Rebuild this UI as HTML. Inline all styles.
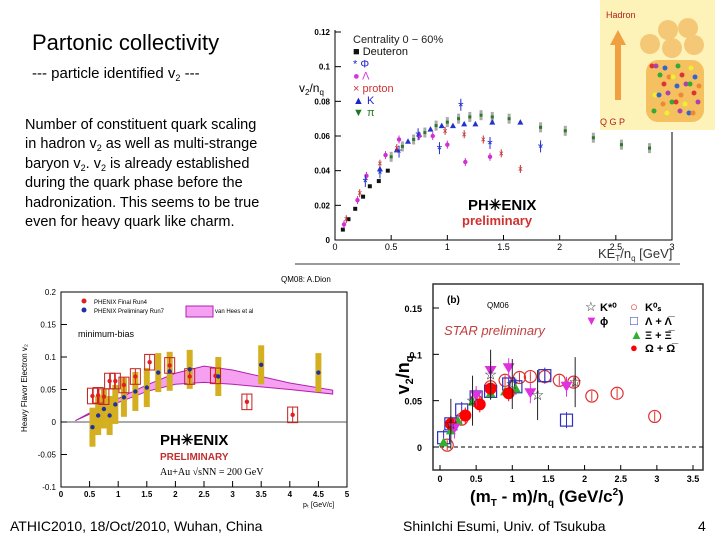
<!DOCTYPE html>
<html><head><meta charset="utf-8"><style>
body{margin:0;width:720px;height:540px;background:#fff;position:relative;overflow:hidden;font-family:"Liberation Sans",sans-serif}
.t{position:absolute;color:#000}
sub{line-height:0;font-size:9px;vertical-align:-3px}
svg{position:absolute;left:0;top:0}
</style></head><body>
<div class="t" style="left:32px;top:30px;font-size:22px">Partonic collectivity</div>
<div class="t" style="left:32px;top:65px;font-size:15px">--- particle identified v<sub>2</sub> ---</div>
<div class="t" style="left:25px;top:116px;font-size:14.5px;line-height:19.4px;width:290px;white-space:nowrap">Number of constituent quark scaling<br>in hadron v<sub>2</sub> as well as multi-strange<br>baryon v<sub>2</sub>. v<sub>2</sub> is already established<br>during the quark phase before the<br>hadronization. This seems to be true<br>even for heavy quark like charm.</div>
<div class="t" style="left:10px;top:518px;font-size:14px">ATHIC2010, 18/Oct/2010, Wuhan, China</div>
<div class="t" style="left:403px;top:518px;font-size:14px">ShinIchi Esumi, Univ. of Tsukuba</div>
<div class="t" style="left:698px;top:518px;font-size:14px">4</div>
<svg id="s" width="720" height="540"></svg>
<script>
// ---- Chart 1: PHENIX v2/nq vs KE_T/nq ----
const c1_deuteron_x=[0.07,0.12,0.18,0.25,0.31,0.39,0.47];
const c1_deuteron_y=[0.006,0.012,0.018,0.025,0.031,0.034,0.04];
const c1_pi_x=[0.5,0.6,0.7,0.8,0.9,1.0,1.1,1.2,1.3,1.4,1.55,1.83,2.05,2.3,2.55,2.8];
const c1_pi_y=[0.048,0.054,0.058,0.062,0.066,0.068,0.07,0.071,0.072,0.071,0.07,0.065,0.063,0.059,0.055,0.053];
const c1_k_x=[0.4,0.55,0.65,0.75,0.85,0.95,1.05,1.15,1.25,1.4,1.65];
const c1_k_y=[0.041,0.052,0.057,0.061,0.064,0.066,0.066,0.067,0.067,0.068,0.068];
const c1_lam_x=[0.08,0.2,0.28,0.45,0.57,0.75,0.87,1.0,1.16,1.38];
const c1_lam_y=[0.009,0.023,0.037,0.049,0.058,0.06,0.06,0.055,0.045,0.048];
const c1_p_x=[0.1,0.22,0.4,0.55,0.98,1.15,1.32,1.48,1.65];
const c1_p_y=[0.012,0.027,0.044,0.053,0.063,0.061,0.058,0.05,0.041];
const c1_phi_x=[0.27,0.4,0.57,0.74,0.93,1.12,1.38,1.83];
const c1_phi_y=[0.034,0.039,0.051,0.061,0.053,0.078,0.056,0.054];
const c1_xt=["0","0.5","1","1.5","2","2.5","3"];
const c1_yt=["0","0.02","0.04","0.06","0.08","0.1","0.12"];
// ---- Chart 2: heavy flavor electron v2 ----
const c2_run4_x=[0.55,0.65,0.75,0.85,0.95,1.1,1.3,1.55,1.9,2.25,2.7,3.25,4.05];
const c2_run4_y=[0.04,0.041,0.039,0.063,0.063,0.057,0.07,0.092,0.087,0.07,0.071,0.031,0.011];
const c2_run7_x=[0.55,0.65,0.75,0.85,0.95,1.1,1.3,1.5,1.7,1.9,2.25,2.75,3.5,4.5];
const c2_run7_y=[-0.008,0.01,0.02,0.01,0.027,0.038,0.047,0.053,0.076,0.078,0.081,0.07,0.088,0.076];
const c2_band_x=[0.25,0.5,1.0,1.5,2.0,2.5,3.0,3.5,4.0,4.75];
const c2_band_lo=[0.002,0.012,0.03,0.047,0.058,0.061,0.058,0.054,0.05,0.043];
const c2_band_hi=[0.002,0.014,0.036,0.057,0.075,0.086,0.08,0.07,0.06,0.049];
const c2_xt=["0","0.5","1","1.5","2","2.5","3","3.5","4","4.5","5"];
const c2_yt=["-0.1","-0.05","0","0.05","0.1","0.15","0.2"];
// ---- Chart 3: STAR v2/nq ----
const c3_ks_x=[0.1,0.3,0.5,0.7,0.9,1.1,1.25,1.45,1.65,1.85,2.1,2.45,2.97];
const c3_ks_y=[0.002,0.03,0.05,0.065,0.072,0.075,0.076,0.076,0.072,0.07,0.055,0.058,0.033];
const c3_lam_x=[0.05,0.15,0.3,0.5,0.7,0.95,1.05,1.45,1.75];
const c3_lam_y=[0.01,0.025,0.04,0.054,0.06,0.068,0.065,0.077,0.029];
const c3_xi_x=[0.05,0.15,0.25,0.45,0.7,0.9,1.05];
const c3_xi_y=[0.005,0.018,0.028,0.049,0.058,0.06,0.063];
const c3_om_x=[0.15,0.35,0.55,0.7,0.95];
const c3_om_y=[0.025,0.034,0.046,0.063,0.058];
const c3_phi_x=[0.2,0.5,0.7,0.95,1.25,1.75];
const c3_phi_y=[0.02,0.055,0.082,0.085,0.058,0.065];
const c3_kst_x=[0.15,0.45,0.7,1.0,1.35,1.87];
const c3_kst_y=[0.025,0.05,0.078,0.068,0.056,0.07];
const c3_xt=["0","0.5","1","1.5","2","2.5","3","3.5"];
const c3_yt=["0","0.05","0.1","0.15"];

const S=document.getElementById('s');const NS='http://www.w3.org/2000/svg';
function E(tag,a,txt){const e=document.createElementNS(NS,tag);for(const k in a)e.setAttribute(k,a[k]);if(txt!==undefined)e.textContent=txt;S.appendChild(e);return e;}
function lin(d0,d1,r0,r1){return v=>r0+(v-d0)*(r1-r0)/(d1-d0);}

// inset image
let el=E('rect',{x:600,y:0,width:115,height:130,fill:'#fdf3b8'});


el=E('rect',{x:646,y:60,width:58,height:62,rx:12,fill:'#f5c060'});


const blobs=[[668,30],[688,28],[650,44],[672,48],[694,45]];
blobs.forEach(b=>{el=E('circle',{cx:b[0],cy:b[1],r:10,fill:'#f5c878'});

});
const cols=['#d33','#36c','#3a3','#ee3','#a4a','#e83'];
for(let i=0;i<30;i++){el=E('circle',{cx:652+(i*13)%48,cy:66+Math.floor(i/5)*9+(i%2)*2,r:2.5,fill:cols[i%6]});

}
el=E('path',{d:'M615,100 L615,45 L610,45 L618,30 L626,45 L621,45 L621,100Z',fill:'#f0a040'});


el=E('text',{x:606,y:18,'font-size':9,fill:'#b02020'},'Hadron');


el=E('text',{x:600,y:125,'font-size':9,fill:'#b02020'},'Q G P');



// ---------- chart 1
const X1=lin(0,3,335,672),Y1=lin(0,0.12,240,32);
el=E('path',{d:'M335,30 L335,240 L672,240 L672,132',fill:'none',stroke:'#000','stroke-width':1});


el=E('line',{x1:295,y1:264,x2:680,y2:264,stroke:'#999','stroke-width':2});


c1_yt.forEach((t,i)=>{const y=Y1(i*0.02);
el=E('text',{x:330,y:y+3,'font-size':8,'font-weight':'bold','text-anchor':'end'},t);


E('line',{x1:335,y1:y,x2:341,y2:y,stroke:'#000'});});
c1_xt.forEach((t,i)=>{const x=X1(i*0.5);
el=E('text',{x:x,y:250,'font-size':9,'text-anchor':'middle'},t);


E('line',{x1:x,y1:240,x2:x,y2:235,stroke:'#000'});});
el=E('text',{x:598,y:258,'font-size':13,fill:'#333'});
el.innerHTML='KE<tspan font-size="8" dy="3">T</tspan><tspan dy="-3">/n</tspan><tspan font-size="8" dy="3">q</tspan><tspan dy="-3"> [GeV]</tspan>';


el=E('text',{x:299,y:92,'font-size':12});
el.innerHTML='v<tspan font-size="8" dy="3">2</tspan><tspan dy="-3">/n</tspan><tspan font-size="8" dy="3">q</tspan>';


const leg1=[['Centrality 0 \u2212 60%','#222',''],['Deuteron','#111','\u25A0'],['\u03A6','#22c','*'],['\u039B','#d3d','\u25CF'],['proton','#c33','\u00D7'],['K','#22c','\u25B2'],['\u03C0','#272','\u25BC']];
leg1.forEach((l,i)=>{el=E('text',{x:353,y:43+i*12.2,'font-size':11,fill:l[1]},(l[2]?l[2]+'  ':'')+l[0]);

});
function pts(xs,ys,X,Y,col,shape,name,err){xs.forEach((x,i)=>{const cx=X(x),cy=Y(ys[i]);let e;
if(err){E('line',{x1:cx,y1:cy-err,x2:cx,y2:cy+err,stroke:col,'stroke-width':1});}
if(shape==='sq')e=E('rect',{x:cx-2,y:cy-2,width:4,height:4,fill:col});
else if(shape==='c')e=E('circle',{cx,cy,r:2.2,fill:col});
else if(shape==='oc')e=E('circle',{cx,cy,r:6,fill:'none',stroke:col,'stroke-width':1.2});
else if(shape==='bc')e=E('circle',{cx,cy,r:6,fill:col});
else if(shape==='osq')e=E('rect',{x:cx-6,y:cy-6,width:12,height:12,fill:'none',stroke:col,'stroke-width':1.2});
else if(shape==='tu')e=E('path',{d:`M${cx},${cy-3}L${cx+3},${cy+2.5}L${cx-3},${cy+2.5}Z`,fill:col});
else if(shape==='tu2')e=E('path',{d:`M${cx},${cy-5}L${cx+5},${cy+4}L${cx-5},${cy+4}Z`,fill:col});
else if(shape==='td')e=E('path',{d:`M${cx},${cy+5}L${cx+6},${cy-5}L${cx-6},${cy-5}Z`,fill:col});
else if(shape==='st')e=E('text',{x:cx,y:cy+5,'font-size':15,'text-anchor':'middle',fill:col},'\u2606');
else if(shape==='x')e=E('text',{x:cx,y:cy+3,'font-size':9,'text-anchor':'middle',fill:col},'\u00D7');
else if(shape==='ast')e=E('text',{x:cx,y:cy+6,'font-size':14,'text-anchor':'middle',fill:col},'*');
else if(shape==='bar'){E('rect',{x:cx-1.5,y:cy-5,width:3,height:10,fill:'#aaa'});e=E('rect',{x:cx-1.5,y:cy-1.5,width:3,height:3,fill:col});}

});}
pts(c1_pi_x,c1_pi_y,X1,Y1,'#2a7a2a','bar','chart1-pion-point');
pts(c1_k_x,c1_k_y,X1,Y1,'#2233cc','tu','chart1-kaon-point');
pts(c1_deuteron_x,c1_deuteron_y,X1,Y1,'#111','sq','chart1-deuteron-point');
pts(c1_lam_x,c1_lam_y,X1,Y1,'#d030d0','c','chart1-lambda-point',4);
pts(c1_p_x,c1_p_y,X1,Y1,'#c03030','x','chart1-proton-point',4);
pts(c1_phi_x,c1_phi_y,X1,Y1,'#2233cc','ast','chart1-phi-point',6);
el=E('text',{x:468,y:210,'font-size':15,'font-weight':'bold'},'PH\u2733ENIX');


el=E('text',{x:462,y:225,'font-size':13,'font-weight':'bold',fill:'#d03030'},'preliminary');



// ---------- chart 2
const X2=lin(0,5,61,347),Y2=lin(-0.1,0.2,487,292);
el=E('text',{x:281,y:282,'font-size':8},'QM08: A.Dion');


let bp='';c2_band_x.forEach((x,i)=>bp+=(i?'L':'M')+X2(x)+','+Y2(c2_band_hi[i]));
for(let i=c2_band_x.length-1;i>=0;i--)bp+='L'+X2(c2_band_x[i])+','+Y2(c2_band_lo[i]);
el=E('path',{d:bp+'Z',fill:'#f5a0f0',stroke:'#b020b0','stroke-width':1});


el=E('rect',{x:61,y:292,width:286,height:195,fill:'none',stroke:'#000'});


el=E('line',{x1:61,y1:Y2(0),x2:347,y2:Y2(0),stroke:'#555'});


c2_yt.forEach((t,i)=>{const y=Y2(-0.1+i*0.05);
el=E('text',{x:56,y:y+3,'font-size':8,'text-anchor':'end'},t);


E('line',{x1:61,y1:y,x2:67,y2:y,stroke:'#000'});});
c2_xt.forEach((t,i)=>{const x=X2(i*0.5);
el=E('text',{x:x,y:497,'font-size':8,'font-weight':'bold','text-anchor':'middle'},t);


E('line',{x1:x,y1:487,x2:x,y2:481,stroke:'#000'});});
el=E('text',{x:303,y:507,'font-size':7},'p\u209C [GeV/c]');


el=E('text',{x:0,y:0,'font-size':8,transform:'translate(27,388) rotate(-90)','text-anchor':'middle'},'Heavy Flavor Electron v\u2082');


c2_run7_x.forEach((x,i)=>{const y=c2_run7_y[i];
el=E('rect',{x:X2(x)-3,y:Y2(y+0.03),width:6,height:Y2(y-0.03)-Y2(y+0.03),fill:'#d4b020'});

});
c2_run4_x.forEach((x,i)=>{const y=c2_run4_y[i];
el=E('rect',{x:X2(x)-5,y:Y2(y+0.012),width:10,height:Y2(y-0.012)-Y2(y+0.012),fill:'none',stroke:'#c02020'});

});
pts(c2_run4_x,c2_run4_y,X2,Y2,'#e02020','c','chart2-run4-point',8);
pts(c2_run7_x,c2_run7_y,X2,Y2,'#2030a0','c','chart2-run7-point');
el=E('circle',{cx:84,cy:301,r:2.5,fill:'#e02020'});


el=E('text',{x:94,y:304,'font-size':6},'PHENIX Final Run4');


el=E('circle',{cx:84,cy:310,r:2.5,fill:'#2030a0'});


el=E('text',{x:94,y:313,'font-size':6},'PHENIX Preliminary Run7');


el=E('rect',{x:186,y:306,width:27,height:11,fill:'#f5a0f0',stroke:'#b020b0'});


el=E('text',{x:215,y:313,'font-size':6},'van Hees et al');


el=E('text',{x:78,y:337,'font-size':9},'minimum-bias');


el=E('text',{x:160,y:445,'font-size':15,'font-weight':'bold'},'PH\u2733ENIX');


el=E('text',{x:160,y:460,'font-size':10,'font-weight':'bold',fill:'#c03030'},'PRELIMINARY');


el=E('text',{x:160,y:475,'font-size':10,'font-family':'Liberation Serif'},'Au+Au \u221AsNN = 200 GeV');



// ---------- chart 3
const X3=lin(0,3.5,440,693),Y3=lin(0,0.15,447,308);
el=E('rect',{x:433,y:284,width:270,height:186,fill:'none',stroke:'#333','stroke-width':1.5});


el=E('line',{x1:433,y1:Y3(0),x2:703,y2:Y3(0),stroke:'#000','stroke-dasharray':'4,3'});


c3_yt.forEach((t,i)=>{const y=Y3(i*0.05);
el=E('text',{x:422,y:y+4,'font-size':9,'font-weight':'bold','text-anchor':'end'},t);


E('line',{x1:433,y1:y,x2:439,y2:y,stroke:'#000'});});
c3_xt.forEach((t,i)=>{const x=X3(i*0.5);
el=E('text',{x:x,y:482,'font-size':9,'font-weight':'bold','text-anchor':'middle'},t);


E('line',{x1:x,y1:470,x2:x,y2:465,stroke:'#000'});});
el=E('text',{x:470,y:502,'font-size':17,'font-weight':'bold'});
el.innerHTML='(m<tspan font-size="10" dy="4">T</tspan><tspan dy="-4"> - m)/n</tspan><tspan font-size="10" dy="4">q</tspan><tspan dy="-4"> (GeV/c</tspan><tspan font-size="10" dy="-7">2</tspan><tspan dy="7">)</tspan>';


el=E('text',{x:0,y:0,'font-size':18,'font-weight':'bold',transform:'translate(409,375) rotate(-90)','text-anchor':'middle'});
el.innerHTML='v<tspan font-size="11" dy="4">2</tspan><tspan dy="-4">/n</tspan><tspan font-size="11" dy="4">q</tspan>';


el=E('text',{x:447,y:303,'font-size':10,'font-weight':'bold'},'(b)');


el=E('text',{x:487,y:308,'font-size':8},'QM06');


el=E('text',{x:444,y:335,'font-size':13,'font-style':'italic',fill:'#c04040'},'STAR preliminary');


pts(c3_ks_x,c3_ks_y,X3,Y3,'#e03030','oc','chart3-ks-point',5);
pts(c3_lam_x,c3_lam_y,X3,Y3,'#3030c0','osq','chart3-lambda-point',8);
pts(c3_xi_x,c3_xi_y,X3,Y3,'#30b030','tu2','chart3-xi-point');
pts(c3_om_x,c3_om_y,X3,Y3,'#ff0000','bc','chart3-omega-point',8);
pts(c3_phi_x,c3_phi_y,X3,Y3,'#e030e0','td','chart3-phi-point',10);
pts(c3_kst_x,c3_kst_y,X3,Y3,'#222','st','chart3-kstar-point',25);
const leg3=[['K\u2070\u209B','#e03030','\u25CB',630,311],['\u039B + \u039B\u0305','#3030c0','\u25A1',630,325],['\u039E + \u039E\u0305','#30b030','\u25B2',630,339],['\u03A9 + \u03A9\u0305','#ff0000','\u25CF',630,352],['K*\u2070','#222','\u2606',585,311],['\u03D5','#e030e0','\u25BC',585,325]];
leg3.forEach(l=>{el=E('text',{x:l[3],y:l[4],'font-size':13,fill:l[1]},l[2]);


el=E('text',{x:l[3]+15,y:l[4],'font-size':11,'font-weight':'bold'},l[0]);

});
</script>
</body></html>
